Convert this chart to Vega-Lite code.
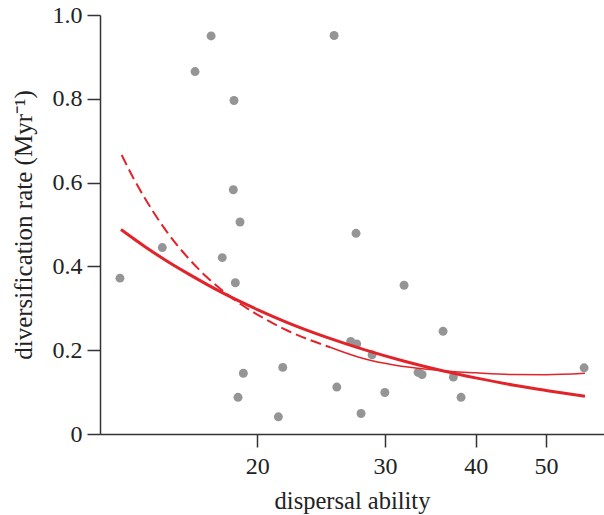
{
  "$schema": "https://vega.github.io/schema/vega-lite/v6.json",
  "width": 504,
  "height": 419,
  "autosize": {"type": "none"},
  "padding": {"left": 100, "top": 15, "right": 0, "bottom": 81},
  "background": "white",
  "config": {"view": {"stroke": null}},
  "datasets": {
    "points": [
      {"x": 12.93, "y": 0.372}, {"x": 14.79, "y": 0.445}, {"x": 16.41, "y": 0.865},
      {"x": 17.27, "y": 0.95}, {"x": 17.89, "y": 0.421}, {"x": 18.57, "y": 0.796},
      {"x": 18.53, "y": 0.583}, {"x": 18.65, "y": 0.361}, {"x": 18.93, "y": 0.506},
      {"x": 18.81, "y": 0.0875}, {"x": 19.13, "y": 0.145}, {"x": 21.38, "y": 0.041},
      {"x": 21.68, "y": 0.159}, {"x": 25.52, "y": 0.951}, {"x": 25.74, "y": 0.112},
      {"x": 26.9, "y": 0.221}, {"x": 27.42, "y": 0.215}, {"x": 27.36, "y": 0.479},
      {"x": 27.8, "y": 0.049}, {"x": 28.79, "y": 0.189}, {"x": 29.98, "y": 0.099},
      {"x": 31.87, "y": 0.355}, {"x": 33.32, "y": 0.147}, {"x": 33.74, "y": 0.142},
      {"x": 36.07, "y": 0.245}, {"x": 37.27, "y": 0.136}, {"x": 38.19, "y": 0.0875},
      {"x": 56.45, "y": 0.158}
    ],
    "thick": [
      {"x": 12.97, "y": 0.488}, {"x": 14, "y": 0.447}, {"x": 15, "y": 0.413},
      {"x": 16, "y": 0.384}, {"x": 18, "y": 0.335}, {"x": 20, "y": 0.297},
      {"x": 22, "y": 0.266}, {"x": 25, "y": 0.23}, {"x": 28, "y": 0.202},
      {"x": 32, "y": 0.173}, {"x": 36, "y": 0.151}, {"x": 40, "y": 0.134},
      {"x": 45, "y": 0.117}, {"x": 50, "y": 0.104}, {"x": 56.6, "y": 0.09}
    ],
    "dashed": [
      {"x": 13.0, "y": 0.666}, {"x": 13.5, "y": 0.61}, {"x": 14, "y": 0.562},
      {"x": 15, "y": 0.483}, {"x": 16, "y": 0.423}, {"x": 17, "y": 0.376},
      {"x": 18, "y": 0.339}, {"x": 19, "y": 0.309}, {"x": 20, "y": 0.285},
      {"x": 22, "y": 0.247}, {"x": 25.2, "y": 0.207}
    ],
    "thin": [
      {"x": 25.2, "y": 0.207}, {"x": 28, "y": 0.18}, {"x": 31, "y": 0.164},
      {"x": 34, "y": 0.155}, {"x": 36, "y": 0.151}, {"x": 40, "y": 0.146},
      {"x": 45, "y": 0.142}, {"x": 50, "y": 0.1415}, {"x": 56.6, "y": 0.145}
    ]
  },
  "encoding": {
    "x": {
      "field": "x", "type": "quantitative",
      "scale": {"type": "log", "domain": [12.135, 60.13], "nice": false},
      "axis": {
        "values": [20, 30, 40, 50], "format": "d", "title": "dispersal ability", "grid": false,
        "domainColor": "#333", "domainWidth": 1.5, "tickColor": "#333", "tickWidth": 1.5, "tickSize": 13,
        "labelFont": "Liberation Serif", "labelFontSize": 24, "labelColor": "#222", "labelPadding": 7,
        "titleFont": "Liberation Serif", "titleFontSize": 24.5, "titleFontWeight": "normal", "titleColor": "#222", "titlePadding": 11.5
      }
    },
    "y": {
      "field": "y", "type": "quantitative",
      "scale": {"domain": [0, 1], "nice": false, "zero": false},
      "axis": {
        "values": [0, 0.2, 0.4, 0.6, 0.8, 1.0],
        "labelExpr": "datum.value == 0 ? '0' : format(datum.value, '.1f')",
        "title": "diversification rate (Myr⁻¹)", "grid": false,
        "domainColor": "#333", "domainWidth": 1.5, "tickColor": "#333", "tickWidth": 1.5, "tickSize": 13,
        "labelFont": "Liberation Serif", "labelFontSize": 24, "labelColor": "#222", "labelPadding": 5,
        "titleFont": "Liberation Serif", "titleFontSize": 25, "titleFontWeight": "normal", "titleColor": "#222", "titlePadding": 16
      }
    }
  },
  "layer": [
    {"data": {"name": "points"}, "mark": {"type": "circle", "size": 80, "color": "#959595", "opacity": 1}},
    {"data": {"name": "thick"}, "mark": {"type": "line", "color": "#e2232a", "strokeWidth": 3, "interpolate": "monotone"}},
    {"data": {"name": "dashed"}, "mark": {"type": "line", "color": "#e2232a", "strokeWidth": 2, "strokeDash": [11, 5], "interpolate": "monotone"}},
    {"data": {"name": "thin"}, "mark": {"type": "line", "color": "#e2232a", "strokeWidth": 1.5, "interpolate": "monotone"}}
  ]
}
